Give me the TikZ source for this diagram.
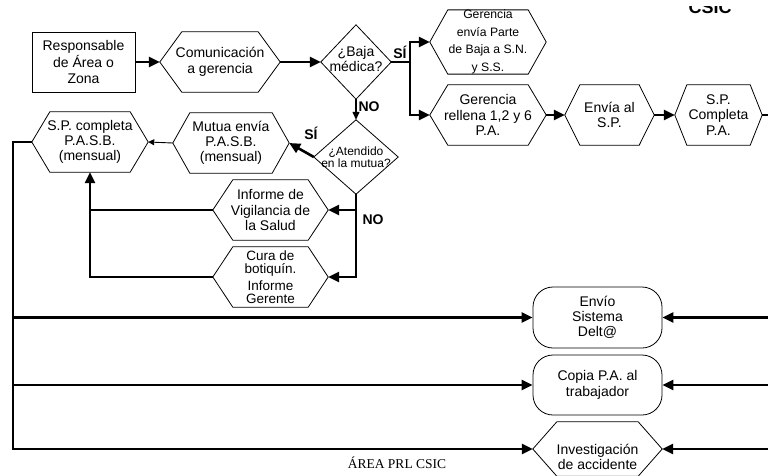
\documentclass[tikz,border=0pt]{standalone}
\usepackage{fontspec}
\setmainfont{Liberation Sans}
\newfontfamily\serifx{Liberation Serif}
\usetikzlibrary{arrows.meta}
\tikzset{
  outline/.style={draw=black, line width=0.8pt},
  txt/.style={align=center, inner sep=0pt, font=\fontsize{14}{15.5}\selectfont},
  flowline/.style={line width=2.6pt},
  flow/.style={line width=2.6pt, -{Triangle[length=11pt,width=10pt]}},
  midflow/.style={line width=1.3pt, -{Triangle[length=8pt,width=7pt]}},
  thinflow/.style={line width=0.9pt, -{Triangle[length=6pt,width=6pt]}},
  lbl/.style={font=\bfseries\fontsize{14}{15}\selectfont, inner sep=0pt},
}
% [options], name, center, width, height, inset, text
\newcommand\hexnode[7][]{%
  \node[txt, minimum width=#4pt, minimum height=#5pt, #1] (#2) at #3 {#7};
  \draw[outline] (#2.west) -- ([xshift=#6pt]#2.north west) -- ([xshift=-#6pt]#2.north east)
    -- (#2.east) -- ([xshift=-#6pt]#2.south east) -- ([xshift=#6pt]#2.south west) -- cycle;
}
% [options], name, center, width, height, text
\newcommand\diamnode[6][]{%
  \node[txt, minimum width=#4pt, minimum height=#5pt, #1] (#2) at #3 {#6};
  \draw[outline] (#2.west) -- (#2.north) -- (#2.east) -- (#2.south) -- cycle;
}
\begin{document}
\begin{tikzpicture}[x=1pt, y=-1pt, line join=miter]
\useasboundingbox (0,0) rectangle (768,475);
\fill[white] (0,0) rectangle (768,475);

% top row
\node[txt, outline, minimum width=103pt, minimum height=60pt, font=\fontsize{14}{16.5}\selectfont] (resp) at (83.5,62)
  {Responsable\\de Área o\\Zona};
\hexnode{com}{(220,62)}{120}{60}{22}{Comunicación\\a gerencia}
\diamnode[text depth=6pt]{baja}{(356,62)}{70}{74}{¿Baja\\médica?}
\hexnode[font=\fontsize{12.2}{17.5}\selectfont]{parte}{(488,42)}{116}{60}{18}{Gerencia\\envía Parte\\de Baja a S.N.\\y S.S.}
\hexnode{rell}{(488,115)}{116}{60}{18}{Gerencia\\rellena 1,2 y 6\\P.A.}
\hexnode{envia}{(609.5,115)}{89}{60}{15}{Envía al\\S.P.}
\hexnode{spc}{(718.5,115)}{87}{60}{12}{S.P.\\Completa\\P.A.}

% middle
\diamnode[font=\fontsize{12}{12}\selectfont]{aten}{(356,157)}{84}{74}{¿Atendido\\en la mutua?}
\hexnode[font=\fontsize{14}{15}\selectfont]{mutua}{(231,143)}{116}{60}{17}{Mutua envía\\P.A.S.B.\\(mensual)}
\hexnode[font=\fontsize{14}{15}\selectfont]{pasb}{(90,142)}{116}{60}{18}{S.P. completa\\P.A.S.B.\\(mensual)}
\hexnode{vig}{(270.5,210)}{115}{60}{20}{Informe de\\Vigilancia de\\la Salud}
\hexnode[font=\fontsize{13.5}{12.5}\selectfont]{cura}{(270.5,277)}{115}{60}{20}{Cura de\\botiquín.\\[4pt]Informe\\Gerente}

% right column
\node[txt, outline, rounded corners=20pt, minimum width=129pt, minimum height=61pt, font=\fontsize{14}{15}\selectfont] (delta) at (597.5,317.5)
  {Envío\\Sistema\\Delt@};
\node[txt, outline, rounded corners=20pt, minimum width=129pt, minimum height=60pt] (copia) at (597.5,385)
  {Copia P.A. al\\trabajador};
\hexnode{inv}{(597.5,449)}{129}{54}{24}{}
\node[txt] (invt) at (597.5,457) {Investigación\\de accidente};

% helper coordinates
\coordinate (jm) at (410,62);
\coordinate (Lx) at (13,142);
\coordinate (Rx) at (768,0);

% connectors
\draw[flow] (resp.east) -- (com.west);
\draw[flow] (com.east) -- (baja.west);
\draw[flowline] (baja.east) -- (jm);
\draw[flow] (jm) |- (parte.west);
\draw[flow] (jm) |- (rell.west);
\draw[flow] (rell.east) -- (envia.west);
\draw[flow] (envia.east) -- (spc.west);
\draw[flowline] (spc.east) -- (Rx |- spc.east);

\draw[midflow] (baja.south) -- (aten.north);
\draw[flow] (aten.west) -- (mutua.east);
\draw[thinflow] (mutua.west) -- (pasb.east);
\draw[flow] (aten.south) |- (cura.east);
\draw[flow] (aten.south |- vig.east) -- (vig.east);
\draw[flowline] (vig.west) -- (vig.west -| pasb.south);
\draw[flow] (cura.west) -| (pasb.south);

\draw[flow] (pasb.west) -- (Lx) |- (inv.west);
\draw[flow] (Lx |- delta.west) -- (delta.west);
\draw[flow] (Lx |- copia.west) -- (copia.west);
\draw[flow] (Rx |- delta.east) -- (delta.east);
\draw[flow] (Rx |- copia.east) -- (copia.east);
\draw[flow] (Rx |- inv.east) -- (inv.east);

% labels
\node[lbl] (si1) at (400,52) {SÍ};
\node[lbl] (no1) at (369,107) {NO};
\node[lbl] (si2) at (311,133) {SÍ};
\node[lbl] (no2) at (373,220) {NO};

\node[font=\serifx\fontsize{13.5}{14}\selectfont, inner sep=0pt] (area) at (397,463) {ÁREA PRL CSIC};

% cropped logo text at top right
\begin{scope}
  \clip (670,6) rectangle (750,20);
  \node[font=\bfseries\fontsize{18}{18}\selectfont, anchor=base, inner sep=0pt] (logo) at (710,13) {CSIC};
\end{scope}
\end{tikzpicture}
\end{document}
